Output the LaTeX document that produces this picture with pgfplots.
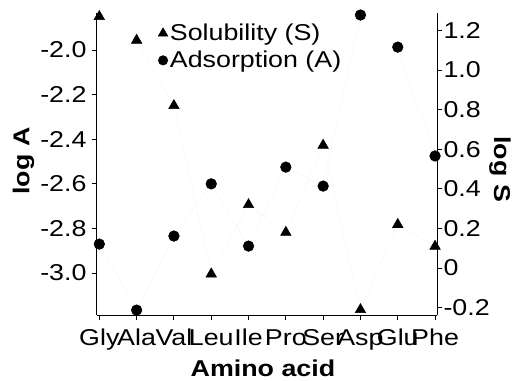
\documentclass[border=0pt]{standalone}
\usepackage{pgfplots}
\pgfplotsset{compat=1.18}
\usepackage{graphicx}
\usepackage{fontspec}
\setmainfont{Liberation Sans}
\newcommand\SX[1]{\scalebox{1.17}[1]{#1}}
\begin{document}
\begin{tikzpicture}[x=1bp,y=1bp]
\useasboundingbox (0,0) rectangle (515,380);
\pgfplotsset{every axis/.append style={
  scale only axis, width=340.6bp, height=302bp,
  at={(96.7bp,65bp)}, anchor=south west,
  xmin=-0.07, xmax=9.06,
  tick align=outside, major tick length=5bp,
  tick style={black, line width=1bp},
  axis line style={line width=1bp},
  font=\fontsize{23}{27}\selectfont,
  /pgf/number format/assume math mode=true,
  clip=false}}
\begin{axis}[
  axis y line*=left, axis x line*=bottom,
  ymin=-3.188, ymax=-1.834,
  ytick={-3.0,-2.8,-2.6,-2.4,-2.2,-2.0},
  yticklabels={\SX{-3.0},\SX{-2.8},\SX{-2.6},\SX{-2.4},\SX{-2.2},\SX{-2.0}},
  xtick={0,1,2,3,4,5,6,7,8,9},
  xticklabels={\SX{Gly},\SX{Ala},\SX{Val},\SX{Leu},\SX{Ile},\SX{Pro},\SX{Ser},\SX{Asp},\SX{Glu},\SX{Phe}},
  ylabel={\SX{\textbf{log A}}},
  ylabel style={at={(axis description cs:-0.215,0.51)}, anchor=center},
  xlabel={\SX{\textbf{Amino acid}}},
  xlabel style={at={(axis description cs:0.488,-0.175)}, anchor=center},
  yticklabel style={inner sep=1bp, xshift=-4bp},
  xticklabel style={inner sep=0bp, anchor=base, yshift=-25bp},
  legend style={at={(axis description cs:0.18,0.97)}, anchor=north west,
    draw=none, fill=none, font=\fontsize{23}{27}\selectfont, row sep=5bp,
    inner sep=0pt, /tikz/every even column/.append style={column sep=0bp}},
  legend cell align=left,
  legend image code/.code={\draw[#1] plot coordinates {(0bp,0bp)};},
]
\addlegendimage{only marks, mark=triangle*, mark size=5.6bp, black}
\addlegendentry{\SX{Solubility (S)}}
\addlegendimage{only marks, mark=*, mark size=4.8bp, black}
\addlegendentry{\SX{Adsorption (A)}}
\addplot[black!3, line width=0.6bp, mark=*, mark size=5.3bp, mark options={black, fill=black}, forget plot]
coordinates {(0,-2.870) (1,-3.166) (2,-2.834) (3,-2.600) (4,-2.879) (5,-2.525) (6,-2.610) (7,-1.843) (8,-1.987) (9,-2.475)};
\end{axis}
\begin{axis}[
  axis y line*=right, axis x line=none,
  ymin=-0.237, ymax=1.288,
  ytick={-0.2,0,0.2,0.4,0.6,0.8,1.0,1.2},
  yticklabels={\SX{-0.2},\SX{0},\SX{0.2},\SX{0.4},\SX{0.6},\SX{0.8},\SX{1.0},\SX{1.2}},
  yticklabel style={inner sep=1bp},
  ylabel={\SX{\textbf{log S}}},
  ylabel style={at={(axis description cs:1.184,0.483)}, anchor=center, rotate=180},
]
\addplot[black!3, line width=0.6bp, mark=triangle*, mark size=6bp, mark options={black, fill=black}]
coordinates {(0,1.27) (1,1.15) (2,0.82) (3,-0.03) (4,0.32) (5,0.18) (6,0.62) (7,-0.21) (8,0.22) (9,0.11)};
\end{axis}
\end{tikzpicture}
\end{document}
